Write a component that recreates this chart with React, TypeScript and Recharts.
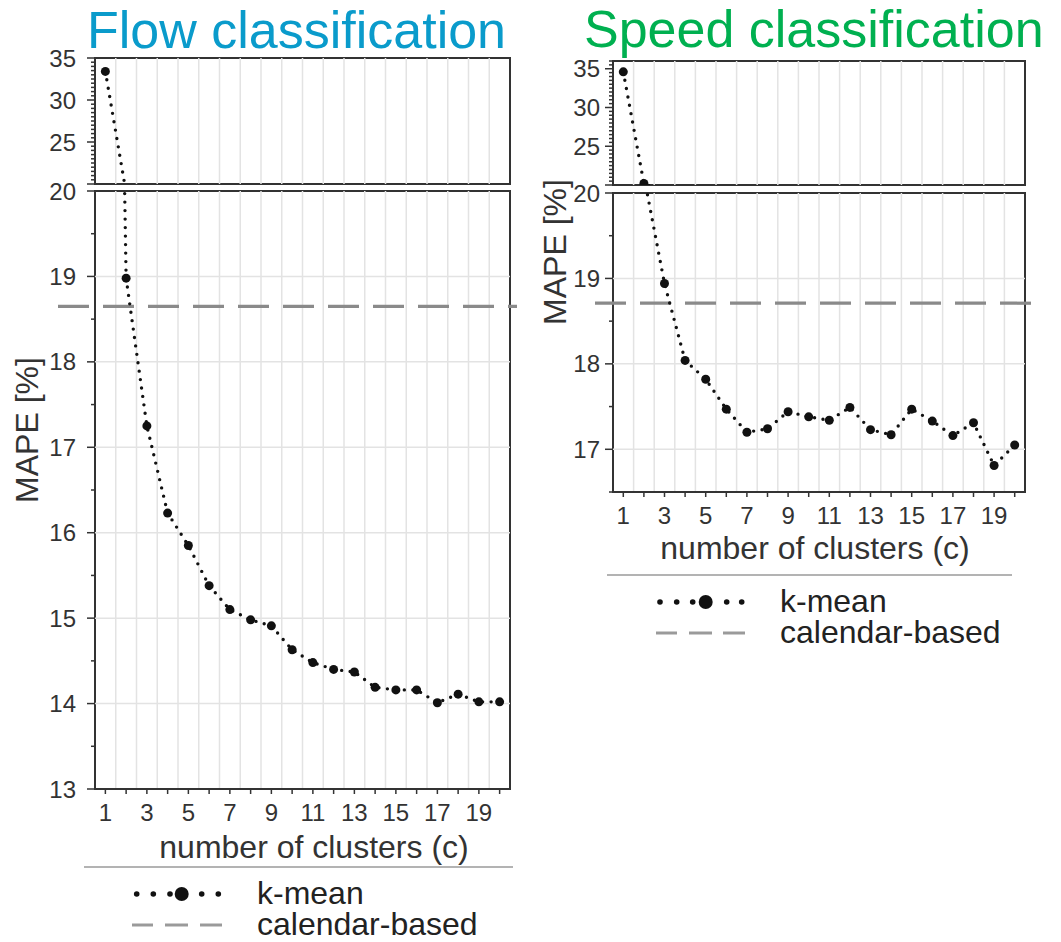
import React from "react";
import { LineChart, Line, XAxis, YAxis, ReferenceLine, ReferenceArea } from "recharts";

const FONT = "'Liberation Sans', Arial, Helvetica, sans-serif";

const clusters = [1, 2, 3, 4, 5, 6, 7, 8, 9, 10, 11, 12, 13, 14, 15, 16, 17, 18, 19, 20];
const flowMape = [33.4, 18.98, 17.25, 16.23, 15.85, 15.38, 15.1, 14.98, 14.91, 14.63, 14.48, 14.4, 14.37, 14.19, 14.16, 14.16, 14.01, 14.11, 14.02, 14.02];
const speedMape = [34.6, 20.2, 18.94, 18.04, 17.82, 17.47, 17.2, 17.24, 17.44, 17.38, 17.34, 17.49, 17.23, 17.17, 17.47, 17.33, 17.16, 17.31, 16.81, 17.05];
const flowCalendar = 18.65;
const speedCalendar = 18.71;

const xLabels = [1, 3, 5, 7, 9, 11, 13, 15, 17, 19];
const xGrid = [1.5, 2.5, 3.5, 4.5, 5.5, 6.5, 7.5, 8.5, 9.5, 10.5, 11.5, 12.5, 13.5, 14.5, 15.5, 16.5, 17.5, 18.5, 19.5];

const topMajor = [20, 25, 30, 35];
const topLabels = [25, 30, 35];
const flowLowMajor = [13, 14, 15, 16, 17, 18, 19, 20];
const speedLowMajor = [17, 18, 19, 20];

// minor tick positions every half unit
const halfSteps = (a: number, b: number) => {
  const out: number[] = [];
  for (let v = a; v <= b + 1e-9; v += 0.5) out.push(v);
  return out;
};

const YTick = (props: any) => {
  const { x, y, payload, majors, labels, gap } = props;
  const v = payload.value;
  const major = majors.includes(v);
  return (
    <g>
      <line x1={x - (major ? 8 : 4)} x2={x} y1={y} y2={y} stroke="#333" strokeWidth={1.5} />
      {labels.includes(v) && (
        <text x={x - gap} y={y} textAnchor="end" dominantBaseline="central" fontSize={24} fontFamily={FONT} fill="#333">
          {v}
        </text>
      )}
    </g>
  );
};

const XTick = (props: any) => {
  const { x, y, payload } = props;
  return (
    <g>
      <line x1={x} x2={x} y1={y} y2={y + 5} stroke="#333" strokeWidth={1.5} />
      {xLabels.includes(payload.value) && (
        <text x={x} y={y + 23} textAnchor="middle" dominantBaseline="central" fontSize={24} fontFamily={FONT} fill="#333">
          {payload.value}
        </text>
      )}
    </g>
  );
};

type PanelProps = {
  left: number;
  width: number;
  yAxisWidth: number;
  marginRight: number;
  values: number[];
  calendar: number;
  topDomain: [number, number];
  topTop: number;
  topHeight: number;
  lowDomain: [number, number];
  lowTop: number;
  lowHeight: number;
  lowMajor: number[];
  labelGap: number;
  dashLead: number;
};

function BrokenPanel(p: PanelProps) {
  const rows = clusters.map((c, i) => ({ c, mape: p.values[i] }));
  const grid = xGrid.map((g) => (
    <ReferenceLine key={"g" + g} x={g} stroke="#e3e3e3" strokeWidth={1.5} />
  ));
  const series = (
    <Line
      dataKey="mape"
      stroke="#111"
      strokeWidth={3.4}
      strokeDasharray="0 8.5"
      strokeLinecap="round"
      dot={{ r: 4.5, fill: "#111", stroke: "none" }}
      activeDot={false}
      isAnimationActive={false}
    />
  );
  const lowGridY = p.lowMajor.filter((v) => v > p.lowDomain[0] && v < p.lowDomain[1]);
  return (
    <>
      <div style={{ position: "absolute", left: p.left, top: p.topTop }}>
        <LineChart width={p.width} height={p.topHeight} data={rows} margin={{ top: 28, right: p.marginRight, bottom: 6, left: 0 }}>
          <XAxis type="number" dataKey="c" domain={[0.5, 20.5]} allowDataOverflow hide />
          <YAxis
            type="number"
            domain={p.topDomain}
            allowDataOverflow
            width={p.yAxisWidth}
            ticks={halfSteps(p.topDomain[0], p.topDomain[1])}
            interval={0}
            tickSize={0}
            tickMargin={0}
            tickLine={false}
            axisLine={false}
            tick={<YTick majors={topMajor} labels={topLabels} gap={p.labelGap} />}
          />
          {grid}
          <ReferenceArea x1={0.5} x2={20.5} y1={p.topDomain[0]} y2={p.topDomain[1]} fill="none" stroke="#333" strokeWidth={2} />
          {series}
        </LineChart>
      </div>
      <div style={{ position: "absolute", left: p.left, top: p.lowTop }}>
        <LineChart width={p.width} height={p.lowHeight} data={rows} margin={{ top: 20, right: p.marginRight, bottom: 0, left: 0 }}>
          <XAxis
            type="number"
            dataKey="c"
            domain={[0.5, 20.5]}
            allowDataOverflow
            ticks={clusters}
            interval={0}
            height={45}
            tickSize={0}
            tickMargin={0}
            tickLine={false}
            axisLine={{ stroke: "#333", strokeWidth: 2 }}
            tick={<XTick />}
          />
          <YAxis
            type="number"
            domain={p.lowDomain}
            allowDataOverflow
            width={p.yAxisWidth}
            ticks={halfSteps(p.lowDomain[0], p.lowDomain[1])}
            interval={0}
            tickSize={0}
            tickMargin={0}
            tickLine={false}
            axisLine={false}
            tick={<YTick majors={p.lowMajor} labels={p.lowMajor} gap={p.labelGap} />}
          />
          {grid}
          {lowGridY.map((v) => (
            <ReferenceLine key={"h" + v} y={v} stroke="#e3e3e3" strokeWidth={1.5} />
          ))}
          <ReferenceArea x1={0.5} x2={20.5} y1={p.lowDomain[0]} y2={p.lowDomain[1]} fill="none" stroke="#333" strokeWidth={2} />
          <ReferenceLine
            y={p.calendar}
            shape={(s: any) => (
              <line x1={s.x1 - p.dashLead} x2={s.x2 + 7} y1={s.y1} y2={s.y2} stroke="#8a8a8a" strokeWidth={3.2} strokeDasharray="31 14" />
            )}
          />
          {series}
        </LineChart>
      </div>
    </>
  );
}

function LegendBlock({ sepX1, sepX2, sepY, dotsX, bigX, dashes, textX, row1, row2 }: any) {
  return (
    <g>
      <line x1={sepX1} x2={sepX2} y1={sepY} y2={sepY} stroke="#9a9a9a" strokeWidth={1.6} />
      {dotsX.map((x: number) => (
        <circle key={x} cx={x} cy={row1} r={2.8} fill="#111" />
      ))}
      <circle cx={bigX} cy={row1} r={7} fill="#111" />
      {dashes.map((d: number[]) => (
        <line key={d[0]} x1={d[0]} x2={d[1]} y1={row2} y2={row2} stroke="#9a9a9a" strokeWidth={3} />
      ))}
      <text x={textX} y={row1 + 10} fontSize={32} fontFamily={FONT} fill="#222">k-mean</text>
      <text x={textX} y={row2 + 10} fontSize={32} fontFamily={FONT} fill="#222">calendar-based</text>
    </g>
  );
}

export default function App() {
  return (
    <div style={{ position: "absolute", left: 0, top: 0, width: 1061, height: 942, background: "#fff", fontFamily: FONT }}>
      <svg width={1061} height={942} style={{ position: "absolute", left: 0, top: 0 }}>
        <text x={87} y={48} fontSize={52} fontFamily={FONT} fill="#0a9bcb">Flow classification</text>
        <text x={584} y={47} fontSize={52} fontFamily={FONT} fill="#00b050">Speed classification</text>
        <text transform="translate(38,430) rotate(-90)" textAnchor="middle" fontSize={32} fontFamily={FONT} fill="#333">MAPE [%]</text>
        <text transform="translate(566,252) rotate(-90)" textAnchor="middle" fontSize={32} fontFamily={FONT} fill="#333">MAPE [%]</text>
        <text x={314} y={858} textAnchor="middle" fontSize={32} fontFamily={FONT} fill="#333">number of clusters (c)</text>
        <text x={815} y={559} textAnchor="middle" fontSize={32} fontFamily={FONT} fill="#333">number of clusters (c)</text>
        <LegendBlock
          sepX1={84} sepX2={513} sepY={867}
          dotsX={[136.7, 153.3, 170, 201.7, 218.3]} bigX={181.7}
          dashes={[[132, 153], [165, 188], [200, 222]]}
          textX={257} row1={894} row2={925}
        />
        <LegendBlock
          sepX1={607} sepX2={1012} sepY={575}
          dotsX={[660, 676.7, 692.7, 726.7, 741.7]} bigX={705.7}
          dashes={[[656, 677], [689, 712], [723, 745]]}
          textX={780} row1={602} row2={633}
        />
      </svg>
      <BrokenPanel
        left={0} width={530} yAxisWidth={95} marginRight={20}
        values={flowMape} calendar={flowCalendar}
        topDomain={[20, 35]} topTop={30} topHeight={160}
        lowDomain={[13, 20]} lowTop={171} lowHeight={663} lowMajor={flowLowMajor}
        labelGap={19} dashLead={37}
      />
      <BrokenPanel
        left={530} width={531} yAxisWidth={83} marginRight={36}
        values={speedMape} calendar={speedCalendar}
        topDomain={[20, 36]} topTop={33} topHeight={158}
        lowDomain={[16.5, 20]} lowTop={173} lowHeight={364} lowMajor={speedLowMajor}
        labelGap={13} dashLead={18}
      />
    </div>
  );
}
